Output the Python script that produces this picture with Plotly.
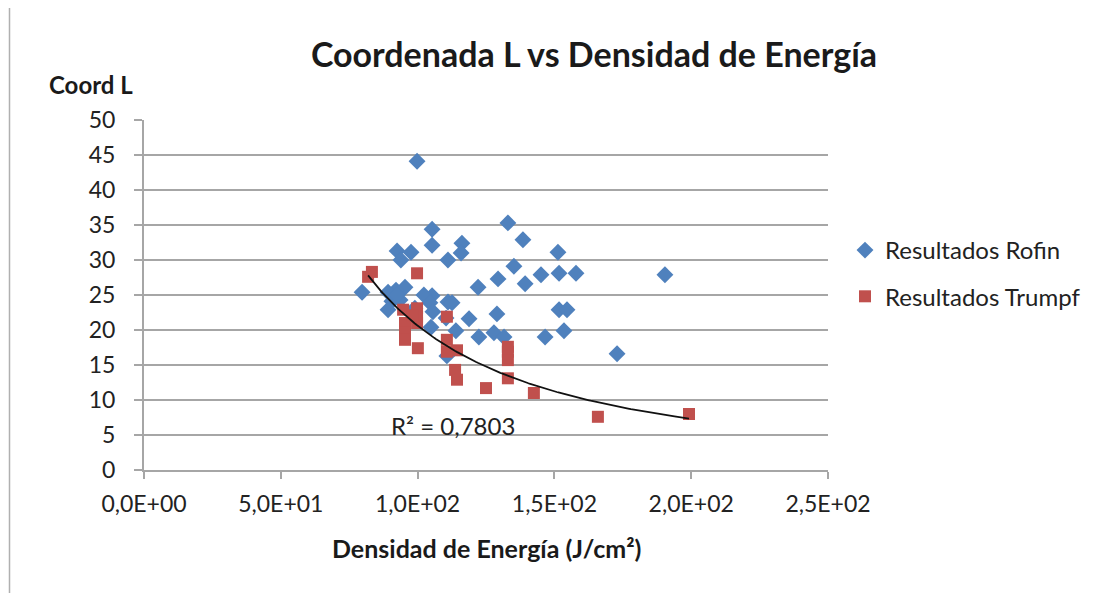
import numpy as np
import plotly.graph_objects as go

# Resultados Rofin (blue diamonds)
rofin_x = [99.8, 133.0, 105.3, 105.3, 116.2, 115.9, 92.5, 97.6, 93.9, 111.1,
           138.5, 135.2, 139.3, 129.4, 122.1, 145.1, 151.3, 151.7, 157.9, 190.4,
           151.7, 154.6, 146.6, 153.5, 172.9, 129.0, 118.8, 122.4, 127.9, 131.6,
           114.0, 110.4, 111.1, 112.6, 105.3, 102.3, 104.5, 105.6, 104.9, 95.4,
           92.1, 89.2, 90.6, 93.6, 89.2, 79.7, 99.0, 110.7, 92.5]
rofin_y = [44.1, 35.3, 34.4, 32.1, 32.4, 31.0, 31.3, 31.1, 30.0, 30.0,
           32.9, 29.1, 26.6, 27.3, 26.1, 27.9, 31.1, 28.1, 28.1, 27.9,
           22.9, 22.9, 19.0, 19.9, 16.6, 22.3, 21.6, 19.0, 19.6, 19.0,
           19.9, 21.7, 24.0, 23.9, 24.9, 25.0, 23.9, 22.6, 20.4, 26.1,
           25.7, 25.4, 24.1, 24.3, 22.9, 25.4, 23.1, 16.3, 25.0]

# Resultados Trumpf (red squares)
trumpf_x = [81.9, 83.3, 99.8, 94.7, 95.4, 95.4, 95.4, 99.8, 99.8, 99.8,
            98.0, 100.1, 110.7, 110.7, 110.7, 114.4, 113.7, 114.4, 125.0, 133.0,
            133.0, 133.0, 133.0, 142.5, 165.9, 199.2]
trumpf_y = [27.6, 28.3, 28.1, 22.9, 21.0, 19.6, 18.6, 23.1, 21.9, 21.0,
            22.1, 17.4, 21.9, 18.6, 16.9, 17.1, 14.3, 12.9, 11.7, 17.6,
            16.9, 15.7, 13.1, 11.0, 7.6, 8.0]

x_tickvals = [0, 50, 100, 150, 200, 250]
x_ticktext = ["0,0E+00", "5,0E+01", "1,0E+02", "1,5E+02", "2,0E+02", "2,5E+02"]
y_tickvals = list(range(0, 55, 5))

r2_text = "R² = 0,7803"

# power trendline fitted to the Trumpf series
b, ln_a = np.polyfit(np.log(trumpf_x), np.log(trumpf_y), 1)
tx = np.linspace(min(trumpf_x), max(trumpf_x), 200)
ty = np.exp(ln_a) * tx ** b

FONT = "Lato, Carlito, 'Open Sans', sans-serif"
GRID = "#A6A6A6"

# page has an 8px body margin; figure coords = page coords - 8
OFF = 8
W, H = 1108 - OFF, 593 - OFF
L, T = 144 - OFF, 120 - OFF
PW, PH = 684, 350


def px_x(p):
    return (p - OFF - L) / PW


def px_y(p):
    return (T + PH - (p - OFF)) / PH


fig = go.Figure()
fig.add_trace(go.Scatter(
    x=rofin_x, y=rofin_y, mode="markers", name="Resultados Rofin",
    legendgroup="a",
    marker=dict(symbol="diamond", size=13, color="#4F81BD", line=dict(width=0)),
))
fig.add_trace(go.Scatter(
    x=trumpf_x, y=trumpf_y, mode="markers", name="Resultados Trumpf",
    legendgroup="b",
    marker=dict(symbol="square", size=12, color="#C0504D", line=dict(width=0)),
))
fig.add_trace(go.Scatter(
    x=tx, y=ty, mode="lines", showlegend=False, hoverinfo="skip",
    line=dict(color="#111111", width=1.8),
))

fig.update_layout(
    width=W, height=H,
    margin=dict(l=L, r=W - L - PW, t=T, b=H - T - PH),
    paper_bgcolor="white", plot_bgcolor="white",
    font=dict(family=FONT, color="#222222", size=23),
    title=dict(text="<b>Coordenada L vs Densidad de Energía</b>",
               x=(594 - OFF) / W, y=1 - (55 - OFF) / H,
               xanchor="center", yanchor="middle",
               font=dict(size=34, family=FONT, color="#1a1a1a")),
    legend=dict(x=px_x(845), y=px_y(228), xanchor="left", yanchor="top",
                font=dict(size=24, family=FONT, color="#222222"),
                traceorder="grouped", tracegroupgap=12,
                bgcolor="rgba(0,0,0,0)"),
    showlegend=True,
)

fig.update_xaxes(
    range=[0, 250], tickvals=x_tickvals, ticktext=x_ticktext,
    showgrid=False, zeroline=False,
    showline=True, linecolor=GRID, linewidth=2,
    ticks="outside", ticklen=7, tickwidth=2, tickcolor=GRID,
    ticklabelstandoff=5,
    tickfont=dict(size=23, family=FONT, color="#222222"),
)
fig.update_yaxes(
    range=[0, 50], tickvals=y_tickvals,
    showgrid=True, gridcolor=GRID, gridwidth=2, zeroline=False,
    showline=True, linecolor=GRID, linewidth=2,
    ticks="outside", ticklen=8, tickwidth=2, tickcolor=GRID,
    ticklabelstandoff=14,
    tickfont=dict(size=23, family=FONT, color="#222222"),
)

fig.add_annotation(text="<b>Coord L</b>", xref="paper", yref="paper",
                   x=px_x(91), y=px_y(84),
                   showarrow=False, xanchor="center", yanchor="middle",
                   font=dict(size=24, family=FONT, color="#1a1a1a"))
fig.add_annotation(text="<b>Densidad de Energía (J/cm²)</b>", xref="paper", yref="paper",
                   x=px_x(486), y=px_y(548),
                   showarrow=False, xanchor="center", yanchor="middle",
                   font=dict(size=25, family=FONT, color="#1a1a1a"))
fig.add_annotation(text=r2_text, x=112.9, y=6.4, xref="x", yref="y",
                   showarrow=False, xanchor="center", yanchor="middle",
                   font=dict(size=24, family=FONT, color="#222222"))

# left edge of chart frame
fig.add_shape(type="line", xref="paper", yref="paper",
              x0=px_x(9.5), x1=px_x(9.5),
              y0=px_y(600), y1=px_y(0),
              line=dict(color="#B0B0B0", width=1.5))

fig.write_html("out.html")
